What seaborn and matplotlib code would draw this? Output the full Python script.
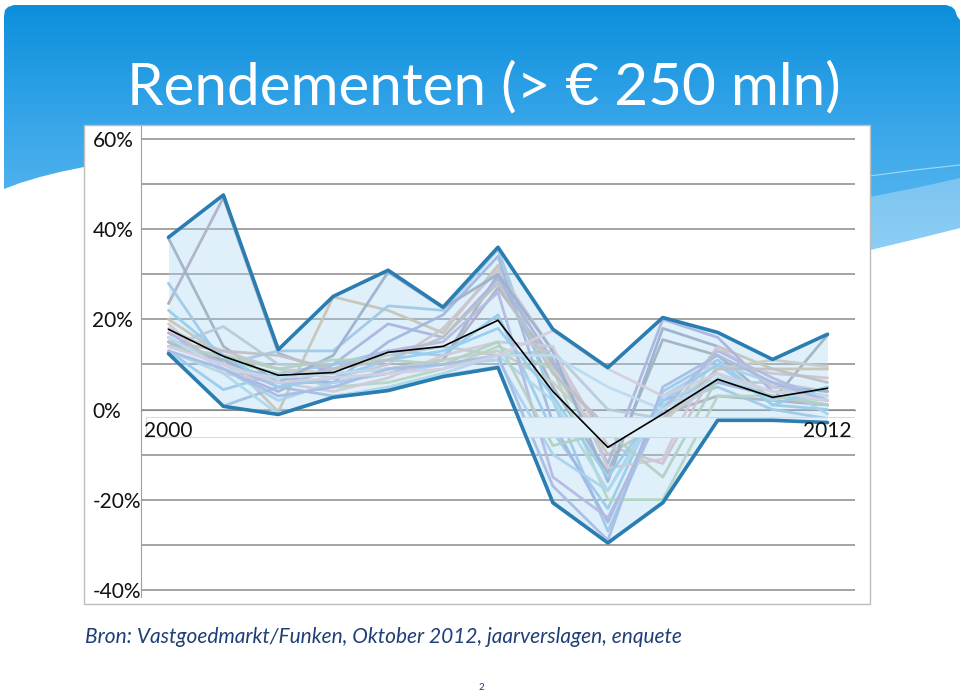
import numpy as np
import pandas as pd
import matplotlib
matplotlib.use('Agg')
import matplotlib.pyplot as plt
import matplotlib.transforms as mtransforms
from matplotlib.patches import Polygon, Rectangle
from matplotlib.colors import LinearSegmentedColormap
import seaborn as sns

########################### DATA ###################################################

jaren = [2000, 2001, 2002, 2003, 2004, 2005, 2006, 2007, 2008, 2009, 2010, 2011, 2012]

# bovenkant en onderkant van de bandbreedte, plus het gemiddelde (in %)
hoogste = [38.2, 47.6, 13.3, 25.1, 30.9, 22.7, 36.0, 17.8, 9.3, 20.4, 17.1, 11.1, 16.7]
laagste = [12.4, 0.7, -1.1, 2.7, 4.2, 7.3, 9.3, -20.7, -29.6, -20.7, -2.4, -2.4, -2.9]
gemiddelde = [17.8, 11.8, 7.6, 8.2, 12.7, 14.0, 19.8, 4.0, -8.4, -1.0, 6.7, 2.7, 4.7]

# rendementen per fonds (geschat uit de grafiek)
fondsen = {
    'f01': [23.5, 47.0, 12.5, 8.0, 9.0, 11.0, 27.0, 10.0, -6.0, -1.0, 3.0, 2.0, 1.0],
    'f02': [38.0, 14.0, 6.0, 6.0, 8.0, 11.0, 30.0, 5.0, -14.0, 15.5, 12.0, 2.0, 16.5],
    'f03': [20.0, 12.0, -0.5, 25.0, 22.0, 17.0, 32.0, 9.0, -10.0, -3.0, 14.0, 9.0, 9.0],
    'f04': [28.0, 10.0, 13.0, 13.0, 23.0, 22.0, 35.5, 2.0, -27.0, 1.0, 5.0, 0.0, -2.0],
    'f05': [16.0, 9.0, 4.0, 10.0, 19.0, 16.0, 29.0, 11.0, -12.0, 20.0, 16.0, 4.0, 3.0],
    'f06': [14.0, 18.4, 10.0, 10.0, 12.0, 14.0, 12.0, 13.0, 0.0, -2.0, 6.0, 6.0, 4.0],
    'f07': [13.0, 4.4, 8.0, 10.0, 13.0, 12.0, 21.0, -5.0, -22.0, 4.0, 11.0, 1.0, 0.0],
    'f08': [17.0, 13.0, 9.0, 7.0, 10.0, 18.0, 31.0, 13.0, -8.0, -12.0, 10.0, 8.0, 7.0],
    'f09': [15.0, 11.0, 8.0, 5.0, 6.0, 9.0, 14.0, 9.0, -20.0, -20.0, 3.0, 3.0, 2.0],
    'f10': [12.5, 0.8, 5.0, 3.0, 4.5, 7.5, 9.5, -20.5, -29.5, -20.5, -2.2, -2.2, -2.7],
    'f11': [15.0, 10.0, 7.0, 6.0, 15.0, 21.0, 34.0, -3.0, -25.0, 2.0, 6.0, 3.0, 1.0],
    'f12': [18.0, 12.0, 9.0, 8.0, 9.0, 11.0, 13.0, 6.0, -6.0, -3.0, 9.0, 11.0, 9.5],
    'f13': [16.0, 9.0, 2.0, 6.0, 8.0, 10.0, 11.0, -10.0, -18.0, 3.0, 10.0, 6.0, -1.0],
    'f14': [14.0, 11.0, 6.0, 12.0, 30.5, 22.5, 30.0, 13.0, -16.0, 18.0, 14.0, 5.0, 4.0],
    'f15': [19.0, 8.0, 6.0, 4.0, 7.0, 12.0, 15.0, 14.0, -13.0, -11.0, 14.0, 5.0, 3.0],
    'f16': [13.0, 8.0, -1.0, 2.8, 5.0, 8.0, 12.0, 2.0, -18.0, 1.0, 8.0, 2.0, 5.0],
    'f17': [17.0, 10.0, 5.0, 9.0, 13.0, 15.0, 26.0, -15.0, -24.0, 0.0, 13.0, 7.0, 2.0],
    'f18': [14.0, 12.0, 9.0, 11.0, 11.0, 10.0, 15.0, -8.0, -5.0, -15.0, 7.0, 3.0, 1.0],
    'f19': [22.0, 12.0, 5.0, 7.0, 11.0, 13.0, 18.0, 3.0, -15.0, 2.0, 10.0, 1.0, 5.0],
    'f20': [15.0, 13.0, 12.0, 9.0, 11.0, 16.0, 28.0, 8.0, -4.0, -2.0, 9.0, 9.0, 6.0],
    'f21': [16.0, 9.0, 7.0, 8.0, 9.0, 10.0, 12.0, 12.0, 5.0, 0.0, 7.0, 4.0, 3.0],
    'f22': [13.0, 9.0, 3.0, 5.0, 9.0, 10.0, 12.0, -17.0, -29.0, 5.0, 12.0, 6.0, 2.0],
    'f23': [14.0, 10.0, 6.0, 7.0, 8.0, 9.0, 12.0, 17.5, 9.0, 3.0, 8.0, 4.0, 2.0],
}

kleuren = ['#b49eaf', '#9ea3ad', '#d6bd9b', '#9cc4e3', '#ada6d6', '#c2c6cc',
           '#92c6e7', '#e0bcc0', '#bcd7ab', '#9cb7d7', '#a0a9d8', '#d9c9ad',
           '#acd0ed', '#96a1ba', '#e3c5c8', '#b2dbe7', '#bcadd8', '#b9cfa7',
           '#8fcbec', '#cab6ac', '#c8e0f0', '#a8b0df', '#ecccd6']

y_ticks = [-40, -30, -20, -10, 0, 10, 20, 30, 40, 50, 60]
y_labels = ['-40%', '', '-20%', '', '0%', '', '20%', '', '40%', '', '60%']

titel = 'Rendementen (> € 250 mln)'
bron = 'Bron: Vastgoedmarkt/Funken, Oktober 2012, jaarverslagen, enquete'

########################### FIGURE #################################################

sns.set_style('white')
plt.rcParams['font.family'] = ['Lato', 'DejaVu Sans']

W, H = 960, 692
fig = plt.figure(figsize=(W / 100, H / 100), dpi=100)

# slide background (pixel coordinates)
bg = fig.add_axes([0, 0, 1, 1], zorder=0)
bg.set_xlim(0, W)
bg.set_ylim(H, 0)
bg.axis('off')

header = [(4, 16), (5, 10), (8, 7), (14, 5), (946, 5), (952, 7), (955, 10), (957, 16),
          (960, 20), (960, 228), (920, 238), (870, 250), (860, 300), (90, 300),
          (84, 167), (60, 172), (40, 177), (20, 183), (4, 189)]
clip = Polygon(header, closed=True, transform=bg.transData, facecolor='none', edgecolor='none')
bg.add_patch(clip)
cmap = LinearSegmentedColormap.from_list('kop', ['#0a8edb', '#3aa7ea', '#64bdf1'])
grad = bg.imshow(np.linspace(0, 1, 256).reshape(-1, 1), cmap=cmap, aspect='auto',
                 extent=[0, W, 260, 0], zorder=1)
grad.set_clip_path(clip)

# lichte golf rechts
bg.add_patch(Polygon([(870, 197), (920, 187), (960, 178), (960, 228), (920, 238), (870, 250)],
                     closed=True, facecolor='white', alpha=0.28, edgecolor='none', zorder=2))
bg.plot([870, 915, 960], [176, 170, 165], color='white', alpha=0.5, lw=0.8, zorder=2)

# chart frame
bg.add_patch(Rectangle((84, 125), 786, 479, facecolor='white', edgecolor='#bdbdbd', lw=1, zorder=3))

bg.text(127, 88, titel, color='white', fontsize=42, va='center', ha='left', zorder=4)
bg.text(85, 637, bron, color='#1f3f77', fontsize=15, style='italic', va='center', ha='left', zorder=4)
bg.text(481, 687, '2', color='#1f3f77', fontsize=7, va='center', ha='center', zorder=4)

########################### CHART ##################################################

ax = fig.add_axes([141 / W, 1 - 597 / H, 714 / W, (597 - 126) / H], zorder=1)
ax.set_facecolor('none')

df = pd.DataFrame([(f, j, v) for f, vals in fondsen.items() for j, v in zip(jaren, vals)],
                  columns=['fonds', 'jaar', 'rendement'])

sns.lineplot(data=df, x='jaar', y='rendement', hue='fonds', palette=kleuren,
             legend=False, lw=2.0, alpha=0.95, ax=ax, zorder=2)

# label box over the 0 line
box_tr = mtransforms.blended_transform_factory(ax.transAxes, ax.transData)
ax.add_patch(Rectangle((0.007, -6.0), 0.993, 4.4, transform=box_tr, facecolor='white',
                       edgecolor='#dcdcdc', lw=0.8, zorder=3))

ax.fill_between(jaren, laagste, hoogste, color='#a8d5f3', alpha=0.35, lw=0, zorder=4)
sns.lineplot(x=jaren, y=hoogste, color='#2a7db0', lw=2.6, ax=ax, zorder=5)
sns.lineplot(x=jaren, y=laagste, color='#2a7db0', lw=2.6, ax=ax, zorder=5)
sns.lineplot(x=jaren, y=gemiddelde, color='black', lw=1.2, ax=ax, zorder=6)

ax.set_xlim(jaren[0] - 0.5, jaren[-1] + 0.5)
ax.set_ylim(-41.6, 62.9)
ax.set_xlabel('')
ax.set_ylabel('')

ax.set_yticks(y_ticks)
ax.set_yticklabels(y_labels)
for t in ax.get_yticklabels():
    t.set_horizontalalignment('left')
ax.tick_params(axis='y', length=0, pad=35, labelsize=15, labelcolor='#111111')
ax.grid(axis='y', color='#8a8a8a', lw=1.1)
ax.set_axisbelow(True)

ax.set_xticks([jaren[0], jaren[-1]])
ax.set_xticklabels([str(jaren[0]), str(jaren[-1])])
ax.set_xticks(np.arange(jaren[0] - 0.5, jaren[-1] + 1, 1), minor=True)
ax.tick_params(axis='x', which='major', length=0, pad=8, labelsize=15, labelcolor='#111111')
ax.tick_params(axis='x', which='minor', length=3, direction='out', color='#8a8a8a', width=0.8)
ax.xaxis.set_zorder(10)
# first label sits a little right of its category in the original
lbl = ax.get_xticklabels()[0]
lbl.set_transform(lbl.get_transform() + mtransforms.ScaledTranslation(10 / 100, 0, fig.dpi_scale_trans))

for s in ['top', 'right']:
    ax.spines[s].set_visible(False)
ax.spines['bottom'].set_position(('data', 0))
ax.spines['bottom'].set_color('#8a8a8a')
ax.spines['bottom'].set_zorder(0.6)
ax.spines['left'].set_color('#a0a0a0')
ax.spines['left'].set_zorder(0.6)

fig.savefig('out.png', dpi=100)
